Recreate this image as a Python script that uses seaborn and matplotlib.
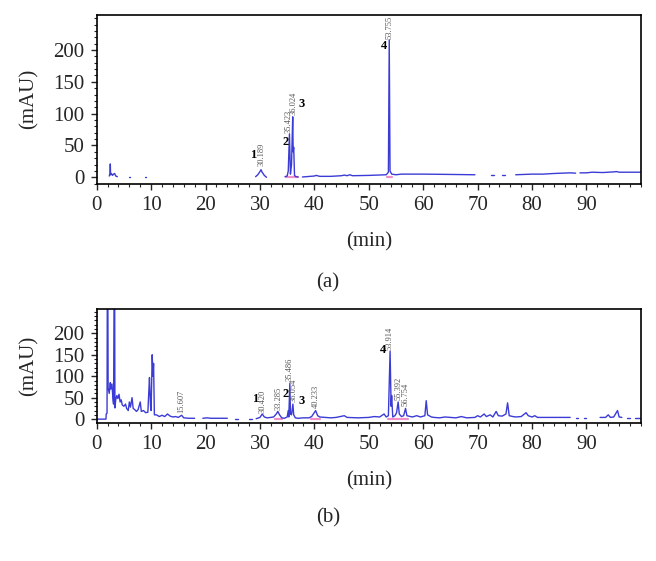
import numpy as np
import pandas as pd
import matplotlib.pyplot as plt
import matplotlib.ticker as mticker
import seaborn as sns

# chromatogram (a): each inner list is one drawn stretch of the trace
tempo_a = [
    [2.3, 2.45, 2.5, 2.55, 2.7, 2.9, 3.1, 3.3, 3.5, 3.8],
    [5.9, 6.2],
    [8.8, 9.1],
    [29.2, 29.6, 30.0, 30.19, 30.4, 30.8, 31.2],
    [34.6, 35.0, 35.2, 35.42, 35.6, 35.8, 36.02, 36.1, 36.2, 36.35, 36.6, 37.0],
    [37.8, 38.5, 40.0, 40.3, 41.0, 43.0, 45.0, 45.5, 46.0, 46.5, 47.0, 50.0, 53.2, 53.6,
     53.755, 53.9, 54.2, 55.0, 56.0, 60.0, 65.0, 69.5],
    [72.5, 73.0],
    [74.5, 75.0],
    [77.0, 80.0, 82.0, 84.0, 87.0, 88.0],
    [88.8, 90.0, 91.0, 93.0, 95.0, 95.5, 96.0, 100.0],
]
sinal_a = [
    [2, 5, 21, 4, 6, 3, 5, 6, 2, 1],
    [0.5, 0.5],
    [0.5, 0.5],
    [1, 4, 9, 12, 8, 3, 0],
    [1, 2, 10, 68, 5, 20, 95, 40, 47, 3, 1, 0.5],
    [0.5, 1, 2, 3, 1.5, 1.5, 2.5, 3.5, 2.5, 4, 2.5, 3, 4, 8,
     216, 10, 5, 4, 5, 5, 4.5, 4],
    [4, 4],
    [4, 4],
    [4, 5, 5, 6, 7, 6.5],
    [7, 7, 8, 7.5, 8.5, 9, 8, 8],
]

# chromatogram (b)
tempo_b = [
    [0.0, 1.7, 1.75, 1.9, 1.95, 2.05, 2.1, 2.3, 2.5, 2.6, 2.8, 3.0, 3.1, 3.2, 3.3, 3.35,
     3.5, 3.7, 3.9, 4.1, 4.3, 4.5, 4.7, 5.0, 5.3, 5.5, 5.8, 6.0, 6.2, 6.5, 6.7, 7.0,
     7.3, 7.6, 8.0, 8.2, 8.6, 9.0, 9.4, 9.7, 9.8, 9.9, 10.0, 10.2, 10.35, 10.45, 10.6,
     11.0, 11.5, 12.0, 12.5, 13.0, 13.5, 14.0, 14.5, 15.0, 15.6, 16.0, 17.0, 18.0],
    [19.5, 20.3, 21.0, 23.0, 24.0],
    [25.5, 26.0],
    [28.0, 28.6],
    [29.3, 30.0, 30.42, 30.8, 31.3, 32.0, 32.5, 33.0, 33.28, 33.6, 34.0, 34.5, 35.0,
     35.2, 35.3, 35.49, 35.6, 35.8, 36.05, 36.2, 36.5, 37.0, 38.0, 39.0, 39.5, 40.23,
     40.6, 41.0, 42.0, 43.0, 44.0, 45.5, 46.0, 48.0, 50.0, 51.0, 52.0, 52.8, 53.2,
     53.6, 53.91, 54.1, 54.2, 54.4, 54.8, 55.1, 55.39, 55.6, 56.0, 56.4, 56.75, 57.0,
     58.0, 58.8, 59.5, 60.3, 60.55, 60.8, 61.5, 62.0, 63.0, 64.0, 65.0, 66.0, 67.0,
     68.0, 69.5, 70.0, 70.5, 71.2, 71.6, 72.3, 72.8, 73.4, 73.8, 74.5, 75.2, 75.5,
     75.8, 76.5, 77.0, 78.0, 78.9, 79.3, 80.0, 80.5, 81.0, 83.0, 86.0, 87.0],
    [88.0, 88.5],
    [89.5, 90.0],
    [92.5, 93.0, 93.5, 94.0, 94.4, 95.0, 95.7, 96.0, 96.5],
    [97.5, 98.0],
    [99.0, 100.0],
]
sinal_b = [
    [0, 0, 12, 14, 300, 300, 73, 60, 85, 70, 82, 45, 35, 300, 300, 26,
     45, 55, 48, 58, 40, 45, 33, 30, 35, 25, 20, 40, 28, 50, 25, 22,
     18, 22, 40, 18, 20, 15, 16, 97, 60, 30, 20, 150, 100, 130, 10,
     10, 6, 9, 6, 12, 7, 5, 6, 4, 9, 3, 2, 2],
    [2, 3, 2, 2, 2],
    [1, 1],
    [1, 1],
    [1, 4, 12, 5, 3, 4, 5, 12, 18, 10, 3, 2, 5,
     20, 5, 83, 12, 10, 35, 10, 3, 2, 3, 3, 6, 20,
     8, 5, 4, 3, 4, 8, 4, 3, 4, 6, 5, 12, 5,
     8, 158, 30, 55, 5, 8, 15, 40, 12, 6, 8, 25, 8,
     5, 8, 5, 8, 43, 10, 5, 4, 3, 5, 4, 3, 6,
     3, 4, 8, 5, 12, 6, 10, 5, 18, 8, 7, 12, 38,
     8, 6, 5, 6, 15, 8, 5, 8, 4, 4, 4, 4],
    [3, 3],
    [3, 3],
    [4, 4, 4, 10, 4, 5, 20, 5, 4],
    [3, 3],
    [3, 3],
]

# integration baselines (pink)
base_a_t = [[34.8, 37.0], [53.4, 54.3]]
base_a_y = [[1, 1], [1, 1]]
base_b_t = [[32.8, 34.0], [39.4, 41.0], [53.5, 57.2]]
base_b_y = [[1, 1], [1, 1], [1, 1]]

# peak labels: retention time text, x, y of text bottom
tr_a = ['30.189', '35.423', '36.024', '53.755']
tr_a_x = [30.3, 35.2, 36.1, 53.9]
tr_a_y = [17, 70, 98, 218]
num_a = ['1', '2', '3', '4']
num_a_x = [28.7, 34.8, 37.7, 52.8]
num_a_y = [35, 56, 115, 207]

tr_b = ['15.607', '30.420', '33.285', '35.486', '36.054', '40.233', '53.914', '55.392', '56.754']
tr_b_x = [15.6, 30.4, 33.4, 35.5, 36.2, 40.2, 53.9, 55.4, 56.8]
tr_b_y = [14, 15, 22, 88, 40, 25, 162, 44, 30]
num_b = ['1', '2', '3', '4']
num_b_x = [29.1, 34.7, 37.6, 52.7]
num_b_y = [47, 58, 42, 161]


def tabela(tempos, sinais):
    linhas = []
    for i, (t, s) in enumerate(zip(tempos, sinais)):
        for a, b in zip(t, s):
            linhas.append((i, a, b))
    return pd.DataFrame(linhas, columns=['seg', 'min', 'mAU'])


sns.set_style('ticks')
plt.rcParams['font.family'] = ['Liberation Serif', 'DejaVu Serif']

fig = plt.figure(figsize=(6.56, 5.61), dpi=100)
ax_a = fig.add_axes([0.1474, 0.6726, 0.8296, 0.3007])
ax_b = fig.add_axes([0.1474, 0.2460, 0.8296, 0.2027])

azul = '#3b3bd6'
rosa = '#f08fc8'

paineis = [
    (ax_a, tempo_a, sinal_a, base_a_t, base_a_y, tr_a, tr_a_x, tr_a_y, num_a, num_a_x, num_a_y, (-10, 255)),
    (ax_b, tempo_b, sinal_b, base_b_t, base_b_y, tr_b, tr_b_x, tr_b_y, num_b, num_b_x, num_b_y, (-9, 256)),
]

for ax, tt, ss, bt, by, tr, trx, tr_y, nm, nmx, nmy, ylim in paineis:
    sns.lineplot(data=tabela(bt, by), x='min', y='mAU', units='seg', estimator=None,
                 sort=False, color=rosa, lw=1.6, legend=False, ax=ax)
    sns.lineplot(data=tabela(tt, ss), x='min', y='mAU', units='seg', estimator=None,
                 sort=False, color=azul, lw=1.0, legend=False, ax=ax)
    for txt, x, y in zip(tr, trx, tr_y):
        ax.text(x, y, txt, rotation=90, ha='center', va='bottom', fontsize=6, color='#555555')
    for txt, x, y in zip(nm, nmx, nmy):
        ax.text(x, y, txt, ha='center', va='center', fontsize=9, fontweight='bold', color='black')

    ax.set_xlim(0, 100)
    ax.set_ylim(*ylim)
    ax.set_xticks([0, 10, 20, 30, 40, 50, 60, 70, 80, 90])
    ax.set_yticks([0, 50, 100, 150, 200])
    ax.xaxis.set_minor_locator(mticker.MultipleLocator(2))
    ax.yaxis.set_minor_locator(mticker.MultipleLocator(10))
    ax.tick_params(axis='both', which='major', direction='out', length=4, width=1,
                   labelsize=15, pad=5)
    ax.tick_params(axis='both', which='minor', direction='out', length=2.5, width=0.8)
    ax.tick_params(top=False, right=False)
    for sp in ax.spines.values():
        sp.set_visible(True)
        sp.set_linewidth(1.2)
        sp.set_color('black')
    ax.set_xlabel('(min)', fontsize=15, labelpad=12)
    ax.set_ylabel('(mAU)', fontsize=15, labelpad=10)

fig.text(0.5, 0.4955, '(a)', ha='center', va='center', fontsize=15)
fig.text(0.5, 0.0766, '(b)', ha='center', va='center', fontsize=15)

fig.savefig('out.png', dpi=100)
